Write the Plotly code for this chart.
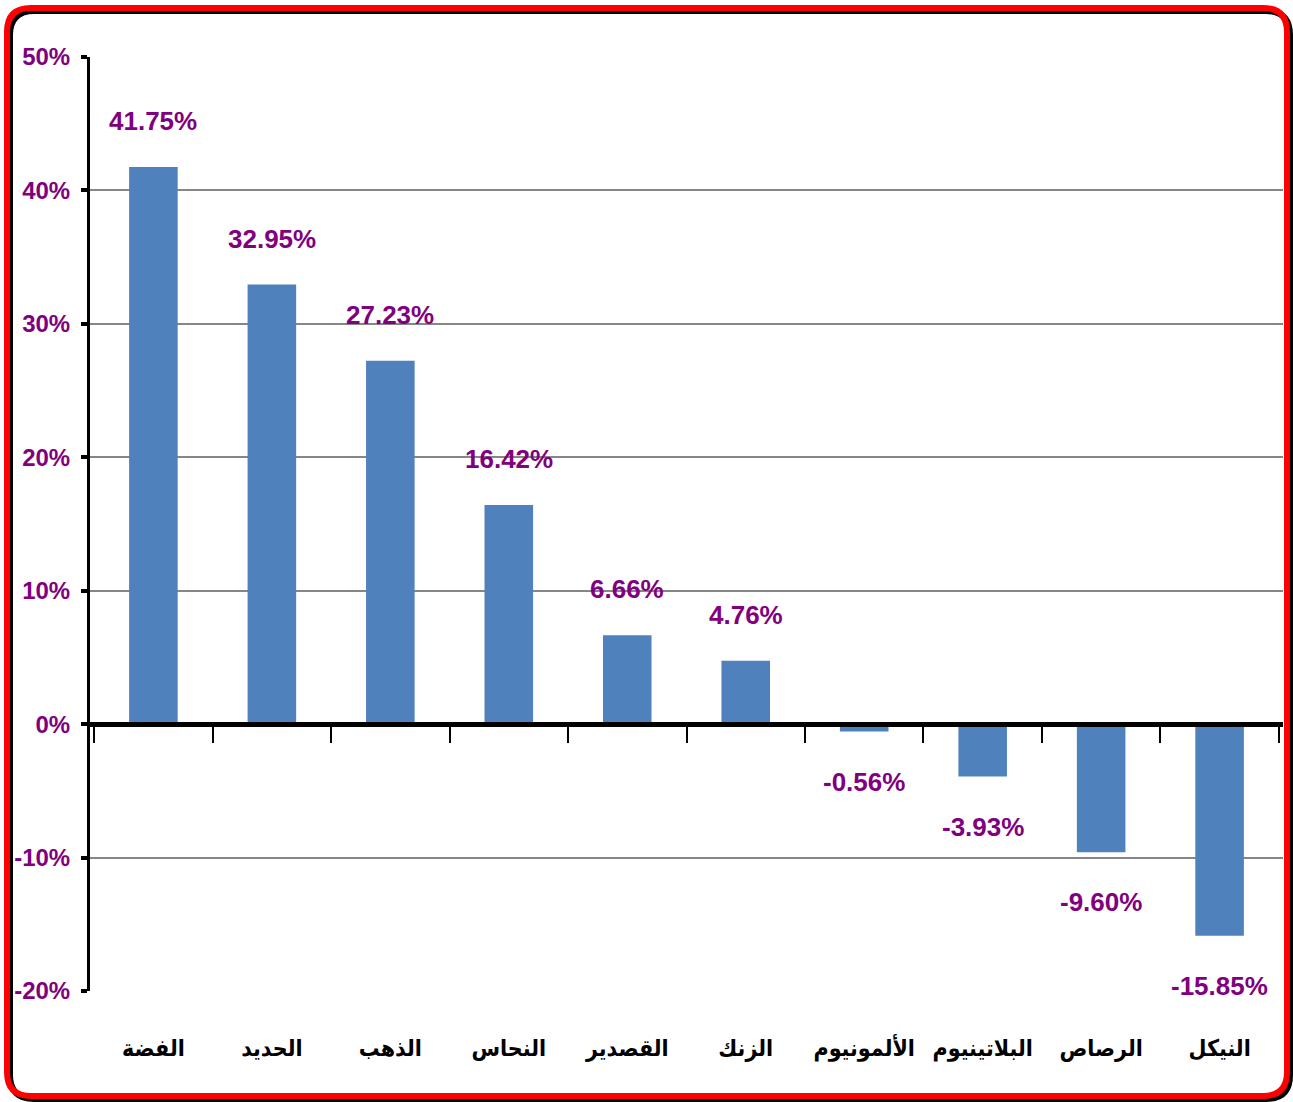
import plotly.graph_objects as go

categories = ["الفضة", "الحديد", "الذهب", "النحاس", "القصدير", "الزنك",
              "الألمونيوم", "البلاتينيوم", "الرصاص", "النيكل"]
values = [41.75, 32.95, 27.23, 16.42, 6.66, 4.76, -0.56, -3.93, -9.60, -15.85]
y_ticks = [-20, -10, 0, 10, 20, 30, 40, 50]

W, H = 1293, 1102
ML, MR, MT, MB = 90, 10, 57, 111
PW, PH = W - ML - MR, H - MT - MB

BAR = "#4F81BD"
PURPLE = "#800080"
NARROW = "Liberation Sans Narrow, Arial Narrow, Liberation Sans, Arial, sans-serif"


def px(x):
    return (x - ML) / PW


def py(y):
    return (H - MB - y) / PH


def rounded_rect(x0, y0, x1, y1, r):
    pts = []
    pts.append(f"M {px(x0 + r)},{py(y0)}")
    pts.append(f"L {px(x1 - r)},{py(y0)}")
    pts.append(f"Q {px(x1)},{py(y0)} {px(x1)},{py(y0 + r)}")
    pts.append(f"L {px(x1)},{py(y1 - r)}")
    pts.append(f"Q {px(x1)},{py(y1)} {px(x1 - r)},{py(y1)}")
    pts.append(f"L {px(x0 + r)},{py(y1)}")
    pts.append(f"Q {px(x0)},{py(y1)} {px(x0)},{py(y1 - r)}")
    pts.append(f"L {px(x0)},{py(y0 + r)}")
    pts.append(f"Q {px(x0)},{py(y0)} {px(x0 + r)},{py(y0)}")
    pts.append("Z")
    return " ".join(pts)


fig = go.Figure()
fig.add_trace(go.Bar(
    x=categories, y=values, marker=dict(color=BAR, line=dict(width=0)),
    xaxis="x", yaxis="y", showlegend=False, hoverinfo="x+y",
))
# invisible trace carrying the category labels at the bottom axis
fig.add_trace(go.Scatter(
    x=categories, y=values, mode="markers", marker=dict(opacity=0),
    xaxis="x2", yaxis="y", showlegend=False, hoverinfo="skip",
))

annotations = []
for c, v in zip(categories, values):
    annotations.append(dict(
        x=c, y=v, xref="x", yref="y", text=f"{v:.2f}%", showarrow=False,
        yanchor="middle", yshift=46 if v >= 0 else -50,
        font=dict(family=NARROW, size=26, color=PURPLE, weight="bold"),
    ))

shapes = [
    dict(type="path", xref="paper", yref="paper",
         path=rounded_rect(10, 11, 1290, 1099, 24),
         line=dict(color="black", width=6), layer="above"),
    dict(type="path", xref="paper", yref="paper",
         path=rounded_rect(7, 8, 1287, 1096, 24),
         line=dict(color="#FF0000", width=6), layer="above"),
]

zero_pos = (0 - y_ticks[0]) / (y_ticks[-1] - y_ticks[0])

fig.update_layout(
    width=W, height=H,
    margin=dict(l=ML, r=MR, t=MT, b=MB, pad=0, autoexpand=False),
    paper_bgcolor="white", plot_bgcolor="white",
    bargap=0.59,
    annotations=annotations,
    shapes=shapes,
    xaxis=dict(
        type="category", categoryorder="array", categoryarray=categories,
        anchor="free", position=zero_pos,
        showline=True, linecolor="black", linewidth=5,
        ticks="outside", tickson="boundaries", ticklen=16, tickwidth=2,
        tickcolor="black", showticklabels=False, showgrid=False,
        zeroline=False, fixedrange=True, automargin=False,
    ),
    xaxis2=dict(
        type="category", categoryorder="array", categoryarray=categories,
        overlaying="x", matches="x", anchor="y", side="bottom",
        showline=False, ticks="", showgrid=False, zeroline=False,
        ticklabelstandoff=41, tickangle=0, automargin=False,
        tickfont=dict(family="DejaVu Sans Condensed, DejaVu Sans, sans-serif",
                      size=23, color="black", weight="bold"),
    ),
    yaxis=dict(
        range=[y_ticks[0], y_ticks[-1]], tickvals=y_ticks,
        ticktext=[f"{t}%" for t in y_ticks],
        showline=True, linecolor="black", linewidth=3,
        ticks="outside", ticklen=6, tickwidth=4, tickcolor="black",
        showgrid=True, gridcolor="#868686", gridwidth=2,
        zeroline=False, automargin=False,
        ticklabelstandoff=6,
        tickfont=dict(family=NARROW, size=24, color=PURPLE, weight="bold"),
    ),
)

fig.write_html("out.html", config={"displayModeBar": False},
               post_script="document.body.style.margin='0';")
